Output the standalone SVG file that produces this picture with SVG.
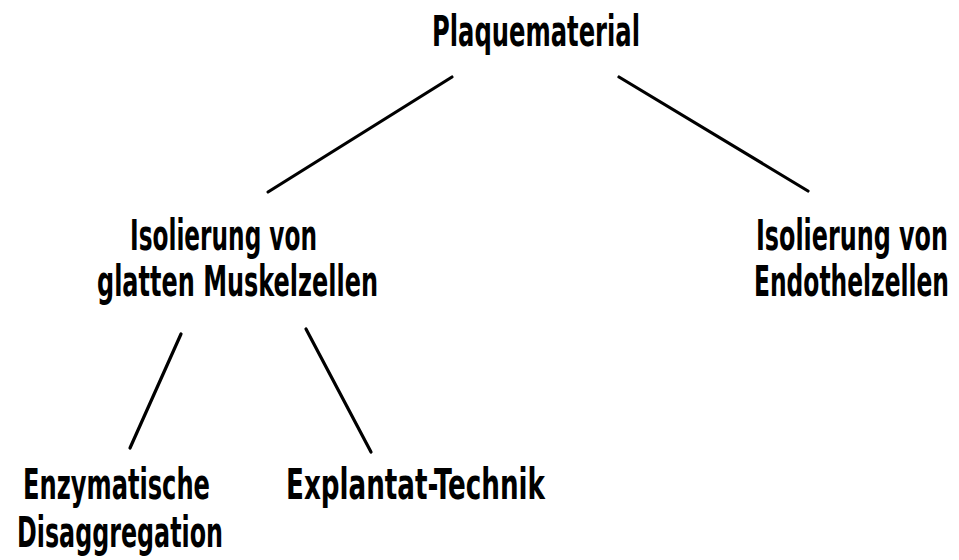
<svg xmlns="http://www.w3.org/2000/svg" width="959" height="560" viewBox="0 0 959 560">
<style>
text{font-family:"DejaVu Sans Condensed","DejaVu Sans","Liberation Sans",sans-serif;font-weight:bold;font-stretch:condensed;font-size:28px;fill:#000}
.s{font-size:26px}
.c line{stroke:#000;stroke-width:3.2;stroke-linecap:round}
</style>
<rect width="959" height="560" fill="#fff"/>
<g class="c" id="connectors">
<line x1="452" y1="77" x2="268" y2="192"/>
<line x1="619" y1="77" x2="808" y2="191"/>
<line x1="181" y1="334" x2="130" y2="448"/>
<line x1="306" y1="329" x2="371" y2="452"/>
</g>
<g id="root"><text transform="translate(432,46) scale(1,1.536)" textLength="208" lengthAdjust="spacingAndGlyphs">Plaquematerial</text></g>
<g id="smc"><text transform="translate(130,250) scale(1,1.536)" textLength="187" lengthAdjust="spacingAndGlyphs">Isolierung von</text><text transform="translate(97,296) scale(1,1.536)" textLength="281" lengthAdjust="spacingAndGlyphs">glatten Muskelzellen</text></g>
<g id="endo"><text transform="translate(756,250) scale(1,1.536)" textLength="192" lengthAdjust="spacingAndGlyphs">Isolierung von</text><text class="s" transform="translate(754,296) scale(1,1.654)" textLength="195" lengthAdjust="spacingAndGlyphs">Endothelzellen</text></g>
<g id="enz"><text transform="translate(23,499) scale(1,1.536)" textLength="187" lengthAdjust="spacingAndGlyphs">Enzymatische</text><text transform="translate(17,547) scale(1,1.536)" textLength="206" lengthAdjust="spacingAndGlyphs">Disaggregation</text></g>
<g id="expl"><text transform="translate(286,499) scale(1,1.536)" textLength="259" lengthAdjust="spacingAndGlyphs">Explantat-Technik</text></g>
</svg>
